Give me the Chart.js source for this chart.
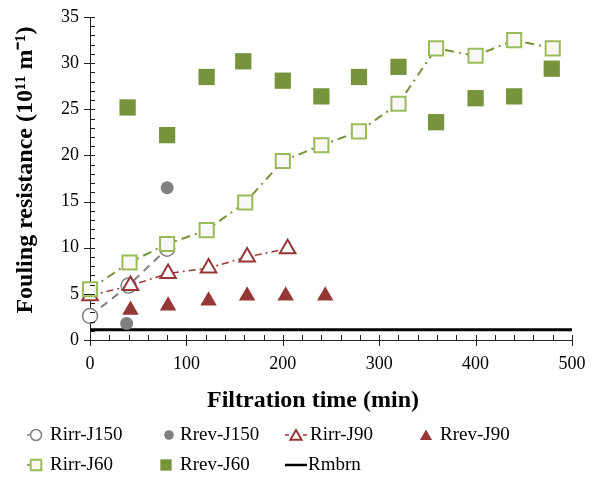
<!DOCTYPE html>
<html>
<head>
<meta charset="utf-8">
<script src="https://cdn.jsdelivr.net/npm/chart.js@4.4.0/dist/chart.umd.min.js"></script>
<style>
html, body { margin: 0; padding: 0; background: #fff; }
#foulingChart { display: block; }
</style>
</head>
<body>
<canvas id="foulingChart" width="596" height="488"></canvas>
<script>
// Rirr / Rrev series (time in min, resistance in 10^11 m^-1)
const irrJ150Time = [0, 40, 80];
const irrJ150 = [2.6, 5.9, 9.9];
const revJ150Time = [38, 80];
const revJ150 = [1.8, 16.5];

const irrJ90Time = [0, 42, 81, 123, 163, 205];
const irrJ90 = [4.8, 5.9, 7.2, 7.8, 9.0, 9.9];
const revJ90Time = [42, 81, 123, 163, 203, 244];
const revJ90 = [3.25, 3.7, 4.25, 4.8, 4.8, 4.8];

const irrJ60Time = [0, 41, 80, 121, 161, 200, 240, 279, 320, 359, 400, 440, 480];
const irrJ60 = [5.5, 8.4, 10.4, 11.9, 14.9, 19.4, 21.1, 22.6, 25.6, 31.6, 30.8, 32.5, 31.6];
const revJ60Time = [39, 80, 121, 159, 200, 240, 279, 320, 359, 400, 440, 479];
const revJ60 = [25.2, 22.2, 28.5, 30.2, 28.1, 26.4, 28.5, 29.6, 23.6, 26.2, 26.4, 29.4];

const membraneTime = [0, 500];
const membrane = [1.1, 1.1];

const seriesLabels = ['Rirr-J150', 'Rrev-J150', 'Rirr-J90', 'Rrev-J90', 'Rirr-J60', 'Rrev-J60', 'Rmbrn'];
const xTickValues = [0, 100, 200, 300, 400, 500];
const yTickValues = [0, 5, 10, 15, 20, 25, 30, 35];
const xTitle = 'Filtration time (min)';
const yTitle = 'Fouling resistance (10\u00B9\u00B9 m\u207B\u00B9)';

const GRAY = '#808080';
const RED = '#953735';
const GREEN_LIGHT = '#9bbb59';
const GREEN = '#77933c';
const SERIF = '"Liberation Serif", "Times New Roman", serif';

function pts(xs, ys) {
    return xs.map((x, i) => ({ x: x, y: ys[i] }));
}

const datasets = [
    {
        label: seriesLabels[0], data: pts(irrJ150Time, irrJ150), showLine: true,
        borderColor: GRAY, borderWidth: 2, borderDash: [8, 6],
        pointStyle: 'circle', pointRadius: 7.5, pointBorderWidth: 1.5,
        pointBorderColor: GRAY, pointBackgroundColor: '#fff', order: 2
    },
    {
        label: seriesLabels[1], data: pts(revJ150Time, revJ150), showLine: false,
        pointStyle: 'circle', pointRadius: 6.5, pointBorderWidth: 0,
        pointBackgroundColor: GRAY, pointBorderColor: GRAY, order: 4
    },
    {
        label: seriesLabels[2], data: pts(irrJ90Time, irrJ90), showLine: true,
        borderColor: RED, borderWidth: 1.5, borderDash: [7, 4, 2, 4],
        pointStyle: 'triangle', pointRadius: 9, pointBorderWidth: 2,
        pointBorderColor: RED, pointBackgroundColor: '#fff', order: 1
    },
    {
        label: seriesLabels[3], data: pts(revJ90Time, revJ90), showLine: false,
        pointStyle: 'triangle', pointRadius: 9.5, pointBorderWidth: 0,
        pointBackgroundColor: RED, pointBorderColor: RED, order: 3
    },
    {
        label: seriesLabels[4], data: pts(irrJ60Time, irrJ60), showLine: true,
        borderColor: GREEN, borderWidth: 2, borderDash: [9, 5, 2, 5],
        pointStyle: 'rect', pointRadius: 10, pointBorderWidth: 2,
        pointBorderColor: GREEN_LIGHT, pointBackgroundColor: '#f8f8f8', order: 0
    },
    {
        label: seriesLabels[5], data: pts(revJ60Time, revJ60), showLine: false,
        pointStyle: 'rect', pointRadius: 11.5, pointBorderWidth: 0,
        pointBackgroundColor: GREEN, pointBorderColor: GREEN, order: 5
    },
    {
        label: seriesLabels[6], data: pts(membraneTime, membrane), showLine: true,
        borderColor: '#000', borderWidth: 3, pointRadius: 0, order: 6
    }
];
datasets.forEach(d => { d.clip = false; d.tension = 0; });

// axis tick marks: major crossing the axis, minor inside the plot
const tickMarks = {
    id: 'tickMarks',
    afterDraw(chart) {
        const { ctx, chartArea, scales: { x, y } } = chart;
        ctx.save();
        ctx.strokeStyle = '#222';
        ctx.lineWidth = 1;
        ctx.beginPath();
        for (let v = 0; v <= 500; v += 20) {
            const px = Math.round(x.getPixelForValue(v)) + 0.5;
            const major = v % 100 === 0;
            ctx.moveTo(px, chartArea.bottom + (major ? 6 : 0));
            ctx.lineTo(px, chartArea.bottom - 5);
        }
        for (let v = 0; v <= 35; v += 1) {
            const py = Math.round(y.getPixelForValue(v)) + 0.5;
            const major = v % 5 === 0;
            ctx.moveTo(chartArea.left - (major ? 6 : 0), py);
            ctx.lineTo(chartArea.left + 5, py);
        }
        ctx.stroke();
        ctx.restore();
    }
};

// axis titles, placed where the original figure has them (a bit off-centre)
const axisTitles = {
    id: 'axisTitles',
    afterDraw(chart) {
        const ctx = chart.ctx;
        ctx.save();
        ctx.fillStyle = '#000';
        ctx.font = 'bold 24px ' + SERIF;
        ctx.textAlign = 'center';
        ctx.textBaseline = 'alphabetic';
        ctx.fillText(xTitle, 313, 407);
        ctx.translate(32, 170);
        ctx.rotate(-Math.PI / 2);
        ctx.fillText(yTitle, 0, 0);
        ctx.restore();
    }
};

// legend laid out in fixed columns like the original figure
const legendGrid = {
    id: 'legendGrid',
    afterDraw(chart) {
        const ctx = chart.ctx;
        const H = Chart.helpers;
        const cells = [
            { i: 0, x: 27, y: 435, lead: true, trail: false, r: 5.5, text: 50 },
            { i: 1, x: 163, y: 435, lead: false, trail: false, r: 4.8, text: 180 },
            { i: 2, x: 285, y: 435, lead: true, trail: true, r: 6.5, text: 310 },
            { i: 3, x: 420, y: 435, lead: false, trail: false, r: 7, text: 440 },
            { i: 4, x: 27, y: 465, lead: true, trail: false, r: 7.5, text: 50 },
            { i: 5, x: 160, y: 465, lead: false, trail: false, r: 8, text: 180 },
            { i: 6, x: 285, y: 465, line: true, text: 308 }
        ];
        ctx.save();
        cells.forEach(c => {
            const ds = chart.data.datasets[c.i];
            if (c.line) {
                ctx.strokeStyle = ds.borderColor;
                ctx.lineWidth = 2.5;
                ctx.beginPath();
                ctx.moveTo(c.x, c.y);
                ctx.lineTo(c.x + 22, c.y);
                ctx.stroke();
            } else {
                let cx = c.x + (c.lead ? 9 : 6);
                if (c.trail) cx = c.x + 11;
                if (c.lead || c.trail) {
                    ctx.strokeStyle = ds.borderColor;
                    ctx.lineWidth = 1.5;
                    ctx.beginPath();
                    if (c.lead) { ctx.moveTo(c.x, c.y); ctx.lineTo(c.x + 4, c.y); }
                    if (c.trail) { ctx.moveTo(c.x + 18, c.y); ctx.lineTo(c.x + 22, c.y); }
                    ctx.stroke();
                }
                ctx.fillStyle = ds.pointBackgroundColor;
                ctx.strokeStyle = ds.pointBorderColor;
                ctx.lineWidth = ds.pointBorderWidth;
                H.drawPoint(ctx, {
                    pointStyle: ds.pointStyle, radius: c.r, rotation: 0,
                    borderWidth: ds.pointBorderWidth
                }, cx, c.y + (ds.pointStyle === 'triangle' ? 1.5 : 0));
            }
            ctx.fillStyle = '#000';
            ctx.font = '19px ' + SERIF;
            ctx.textBaseline = 'middle';
            ctx.textAlign = 'left';
            ctx.fillText(ds.label, c.text, c.y);
        });
        ctx.restore();
    }
};

new Chart(document.getElementById('foulingChart'), {
    type: 'scatter',
    data: { datasets: datasets },
    options: {
        responsive: false,
        animation: false,
        devicePixelRatio: 1,
        layout: { padding: { left: 0, top: 17, right: 24, bottom: 0 } },
        plugins: {
            legend: { display: false },
            tooltip: { enabled: false }
        },
        scales: {
            x: {
                type: 'linear', min: 0, max: 500,
                afterBuildTicks: s => { s.ticks = xTickValues.map(v => ({ value: v })); },
                afterFit: s => { s.height = 148; s.paddingLeft = 0; s.paddingRight = 0; },
                grid: { display: false, drawTicks: false },
                border: { display: true, color: '#222', width: 1 },
                ticks: { color: '#000', padding: 13, font: { family: SERIF, size: 18 } }
            },
            y: {
                type: 'linear', min: 0, max: 35,
                afterBuildTicks: s => { s.ticks = yTickValues.map(v => ({ value: v })); },
                afterFit: s => { s.width = 90; s.paddingTop = 0; s.paddingBottom = 0; },
                grid: { display: false, drawTicks: false },
                border: { display: true, color: '#222', width: 1 },
                ticks: { color: '#000', padding: 11, font: { family: SERIF, size: 18 } }
            }
        }
    },
    plugins: [tickMarks, axisTitles, legendGrid]
});
</script>
</body>
</html>
